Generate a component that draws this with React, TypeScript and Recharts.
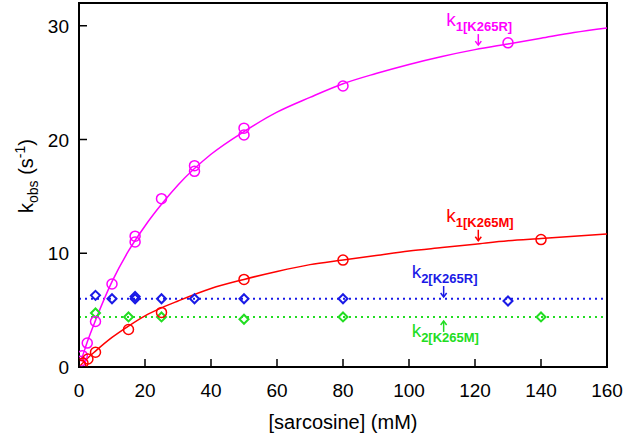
import {
  ComposedChart,
  Line,
  Scatter,
  XAxis,
  YAxis,
  ReferenceArea,
  ReferenceDot,
  Label,
} from 'recharts'

const MAGENTA = '#ff00ff'
const RED = '#ff0000'
const BLUE = '#1a1ae6'
const GREEN = '#22dd22'
const FONT = '"Liberation Sans", Arial, sans-serif'

// measured points, [sarcosine] in mM
const k1RPoints = [
  { x: 0.5, y: 0.5 }, { x: 1, y: 1.0 }, { x: 2.5, y: 2.1 }, { x: 5, y: 4.0 },
  { x: 10, y: 7.3 }, { x: 17, y: 11.5 }, { x: 17, y: 11.0 }, { x: 25, y: 14.8 },
  { x: 35, y: 17.7 }, { x: 35, y: 17.2 }, { x: 50, y: 21.0 }, { x: 50, y: 20.4 },
  { x: 80, y: 24.7 }, { x: 130, y: 28.5 },
]
const k1MPoints = [
  { x: 0.5, y: 0.15 }, { x: 1.2, y: 0.35 }, { x: 2.7, y: 0.7 }, { x: 5, y: 1.3 },
  { x: 15, y: 3.3 }, { x: 25, y: 4.8 }, { x: 50, y: 7.7 }, { x: 80, y: 9.4 },
  { x: 140, y: 11.2 },
]
const k2RPoints = [
  { x: 5, y: 6.3 }, { x: 10, y: 6.0 }, { x: 17, y: 6.2 }, { x: 17, y: 6.0 },
  { x: 25, y: 6.0 }, { x: 35, y: 6.0 }, { x: 50, y: 6.0 }, { x: 80, y: 6.0 },
  { x: 130, y: 5.8 },
]
const k2MPoints = [
  { x: 5, y: 4.75 }, { x: 15, y: 4.4 }, { x: 25, y: 4.4 }, { x: 50, y: 4.2 },
  { x: 80, y: 4.4 }, { x: 140, y: 4.4 },
]

// fitted curves
const k1RFit = [
  { x: 0.5, y: 0.5 }, { x: 1, y: 0.9 }, { x: 2.5, y: 2.2 }, { x: 5, y: 4.1 },
  { x: 10, y: 7.5 }, { x: 15, y: 10.2 }, { x: 20, y: 12.4 }, { x: 25, y: 14.3 },
  { x: 30, y: 16.0 }, { x: 40, y: 18.7 }, { x: 50, y: 20.7 }, { x: 60, y: 22.4 },
  { x: 70, y: 23.7 }, { x: 80, y: 24.9 }, { x: 90, y: 25.8 }, { x: 100, y: 26.6 },
  { x: 110, y: 27.3 }, { x: 120, y: 27.9 }, { x: 130, y: 28.4 }, { x: 140, y: 28.9 },
  { x: 150, y: 29.4 }, { x: 160, y: 29.8 },
]
const k1MFit = [
  { x: 0, y: 0 }, { x: 2.5, y: 0.75 }, { x: 5, y: 1.4 }, { x: 10, y: 2.6 },
  { x: 15, y: 3.6 }, { x: 20, y: 4.5 }, { x: 25, y: 5.2 }, { x: 30, y: 5.8 },
  { x: 40, y: 6.9 }, { x: 50, y: 7.7 }, { x: 60, y: 8.4 }, { x: 70, y: 9.0 },
  { x: 80, y: 9.4 }, { x: 90, y: 9.8 }, { x: 100, y: 10.2 }, { x: 110, y: 10.5 },
  { x: 120, y: 10.8 }, { x: 130, y: 11.1 }, { x: 140, y: 11.3 }, { x: 150, y: 11.5 },
  { x: 160, y: 11.7 },
]
const k2RMean = [{ x: 0, y: 6.0 }, { x: 160, y: 6.0 }]
const k2MMean = [{ x: 0, y: 4.4 }, { x: 160, y: 4.4 }]

const xTicks = [0, 20, 40, 60, 80, 100, 120, 140, 160]
const yTicks = [0, 10, 20, 30]

const XTick = ({ x, y, payload }: any) => (
  <g>
    <line x1={x} y1={y} x2={x} y2={y - 8} stroke="#000" strokeWidth={1.5} />
    <text x={x} y={y + 30} textAnchor="middle" fontSize={19} fontFamily={FONT} fill="#000">
      {payload.value}
    </text>
  </g>
)

const YTick = ({ x, y, payload }: any) => (
  <g>
    <line x1={x} y1={y} x2={x + 8} y2={y} stroke="#000" strokeWidth={1.5} />
    <text x={x - 10} y={y + 7} textAnchor="end" fontSize={19} fontFamily={FONT} fill="#000">
      {payload.value}
    </text>
  </g>
)

const Circle = (color: string) => (p: any) => (
  <circle cx={p.cx} cy={p.cy} r={5} fill="none" stroke={color} strokeWidth={1.5} />
)

const Diamond = (color: string) => (p: any) => (
  <polygon
    points={`${p.cx},${p.cy - 4.5} ${p.cx + 4.5},${p.cy} ${p.cx},${p.cy + 4.5} ${p.cx - 4.5},${p.cy}`}
    fill="none"
    stroke={color}
    strokeWidth={2}
  />
)

const Tag = (label: string, sub: string, color: string, up: boolean) => (p: any) => {
  const { cx, cy } = p
  const d = up ? 1 : -1
  return (
    <g>
      <line x1={cx} y1={cy} x2={cx} y2={cy + d * 11} stroke={color} strokeWidth={1.5} />
      <polyline
        points={`${cx - 3},${cy + d * 4} ${cx},${cy} ${cx + 3},${cy + d * 4}`}
        fill="none"
        stroke={color}
        strokeWidth={1.5}
      />
      <text x={cx - 32} y={up ? cy + 16 : cy - 19} fontFamily={FONT} fill={color}>
        <tspan fontSize={19}>{label}</tspan>
        <tspan fontSize={13} fontWeight="bold" dy={5}>{sub}</tspan>
      </text>
    </g>
  )
}

const XTitle = ({ viewBox }: any) => (
  <text
    x={viewBox.x + viewBox.width / 2}
    y={429}
    textAnchor="middle"
    fontSize={20}
    fontFamily={FONT}
    fill="#000"
  >
    [sarcosine] (mM)
  </text>
)

const YTitle = () => (
  <text
    x={33}
    y={176}
    transform="rotate(-90 33 176)"
    textAnchor="middle"
    fontSize={20}
    fontFamily={FONT}
    fill="#000"
  >
    k<tspan fontSize={14} dy={5}>obs</tspan>
    <tspan dy={-5}> (s</tspan>
    <tspan fontSize={14} dy={-8}>-1</tspan>
    <tspan dy={8}>)</tspan>
  </text>
)

export default function App() {
  return (
    <div style={{ position: 'absolute', left: 0, top: 0 }}>
      <ComposedChart width={628} height={438} margin={{ top: 3, right: 21, bottom: 0, left: 0 }}>
        <XAxis
          type="number"
          dataKey="x"
          domain={[0, 160]}
          ticks={xTicks}
          height={71}
          tickSize={0}
          tickMargin={0}
          tickLine={false}
          axisLine={{ stroke: '#000', strokeWidth: 2 }}
          tick={<XTick />}
          allowDataOverflow
        >
          <Label content={<XTitle />} />
        </XAxis>
        <YAxis
          type="number"
          dataKey="y"
          domain={[0, 32]}
          ticks={yTicks}
          width={79}
          tickSize={0}
          tickMargin={0}
          tickLine={false}
          axisLine={{ stroke: '#000', strokeWidth: 2 }}
          tick={<YTick />}
          allowDataOverflow
        >
          <Label content={<YTitle />} />
        </YAxis>
        <ReferenceArea x1={0} x2={160} y1={0} y2={32} fill="none" stroke="#000" strokeWidth={2} />
        <Line data={k2RMean} dataKey="y" stroke={BLUE} strokeWidth={2} strokeDasharray="2 4" dot={false} isAnimationActive={false} />
        <Line data={k2MMean} dataKey="y" stroke={GREEN} strokeWidth={2} strokeDasharray="2 4" dot={false} isAnimationActive={false} />
        <Line data={k1RFit} dataKey="y" type="monotone" stroke={MAGENTA} strokeWidth={1.5} dot={false} isAnimationActive={false} />
        <Line data={k1MFit} dataKey="y" type="monotone" stroke={RED} strokeWidth={1.5} dot={false} isAnimationActive={false} />
        <Scatter data={k2RPoints} dataKey="y" shape={Diamond(BLUE)} isAnimationActive={false} />
        <Scatter data={k2MPoints} dataKey="y" shape={Diamond(GREEN)} isAnimationActive={false} />
        <Scatter data={k1RPoints} dataKey="y" shape={Circle(MAGENTA)} isAnimationActive={false} />
        <Scatter data={k1MPoints} dataKey="y" shape={Circle(RED)} isAnimationActive={false} />
        <ReferenceDot x={121} y={28.3} r={0} shape={Tag('k', '1[K265R]', MAGENTA, false)} />
        <ReferenceDot x={121} y={11.1} r={0} shape={Tag('k', '1[K265M]', RED, false)} />
        <ReferenceDot x={110.5} y={6.15} r={0} shape={Tag('k', '2[K265R]', BLUE, false)} />
        <ReferenceDot x={110.5} y={4.05} r={0} shape={Tag('k', '2[K265M]', GREEN, true)} />
      </ComposedChart>
    </div>
  )
}
